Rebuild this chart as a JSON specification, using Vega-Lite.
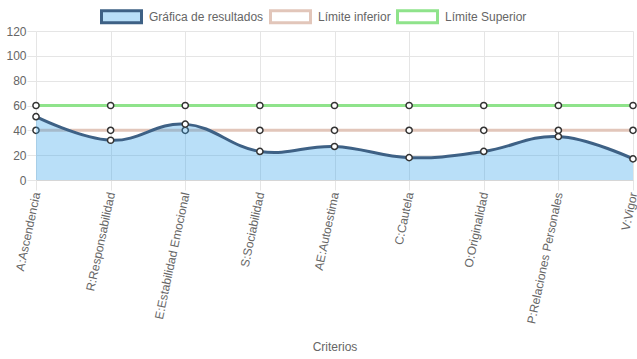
{
  "$schema": "https://vega.github.io/schema/vega-lite/v6.json",
  "width": 597,
  "height": 149,
  "autosize": {"type": "none"},
  "padding": {"left": 36, "top": 31, "right": 4, "bottom": 179},
  "background": "#ffffff",
  "config": {
    "view": {"stroke": null},
    "font": "Liberation Sans",
    "axis": {"labelFont": "Liberation Sans", "labelFontSize": 12, "labelColor": "#666666", "titleFont": "Liberation Sans", "titleFontSize": 12, "titleFontWeight": "normal", "titleColor": "#666666", "gridColor": "#e5e5e5", "tickColor": "#e5e5e5", "domainColor": "#d6d6d6"},
    "legend": {"labelFont": "Liberation Sans", "labelFontSize": 12, "labelColor": "#666666"}
  },
  "data": {
    "values": [
      {"criterio": "A:Ascendencia", "serie": "Gráfica de resultados", "valor": 51},
      {"criterio": "R:Responsabilidad", "serie": "Gráfica de resultados", "valor": 32},
      {"criterio": "E:Estabilidad Emocional", "serie": "Gráfica de resultados", "valor": 45},
      {"criterio": "S:Sociabilidad", "serie": "Gráfica de resultados", "valor": 23},
      {"criterio": "AE:Autoestima", "serie": "Gráfica de resultados", "valor": 27},
      {"criterio": "C:Cautela", "serie": "Gráfica de resultados", "valor": 18},
      {"criterio": "O:Originalidad", "serie": "Gráfica de resultados", "valor": 23},
      {"criterio": "P:Relaciones Personales", "serie": "Gráfica de resultados", "valor": 35},
      {"criterio": "V:Vigor", "serie": "Gráfica de resultados", "valor": 17},
      {"criterio": "A:Ascendencia", "serie": "Límite inferior", "valor": 40},
      {"criterio": "R:Responsabilidad", "serie": "Límite inferior", "valor": 40},
      {"criterio": "E:Estabilidad Emocional", "serie": "Límite inferior", "valor": 40},
      {"criterio": "S:Sociabilidad", "serie": "Límite inferior", "valor": 40},
      {"criterio": "AE:Autoestima", "serie": "Límite inferior", "valor": 40},
      {"criterio": "C:Cautela", "serie": "Límite inferior", "valor": 40},
      {"criterio": "O:Originalidad", "serie": "Límite inferior", "valor": 40},
      {"criterio": "P:Relaciones Personales", "serie": "Límite inferior", "valor": 40},
      {"criterio": "V:Vigor", "serie": "Límite inferior", "valor": 40},
      {"criterio": "A:Ascendencia", "serie": "Límite Superior", "valor": 60},
      {"criterio": "R:Responsabilidad", "serie": "Límite Superior", "valor": 60},
      {"criterio": "E:Estabilidad Emocional", "serie": "Límite Superior", "valor": 60},
      {"criterio": "S:Sociabilidad", "serie": "Límite Superior", "valor": 60},
      {"criterio": "AE:Autoestima", "serie": "Límite Superior", "valor": 60},
      {"criterio": "C:Cautela", "serie": "Límite Superior", "valor": 60},
      {"criterio": "O:Originalidad", "serie": "Límite Superior", "valor": 60},
      {"criterio": "P:Relaciones Personales", "serie": "Límite Superior", "valor": 60},
      {"criterio": "V:Vigor", "serie": "Límite Superior", "valor": 60}
    ]
  },
  "encoding": {
    "x": {
      "field": "criterio", "type": "nominal", "sort": null,
      "scale": {"type": "point", "padding": 0},
      "axis": {"title": "Criterios", "titleY": 161, "titleBaseline": "top", "labelAngle": -78, "labelAlign": "right", "labelBaseline": "middle", "labelPadding": 2, "labelDy": -4, "tickSize": 10, "grid": true, "domain": true}
    },
    "y": {
      "field": "valor", "type": "quantitative",
      "scale": {"domain": [0, 120], "nice": false},
      "axis": {"title": null, "values": [0, 20, 40, 60, 80, 100, 120], "tickSize": 9, "labelPadding": 1, "domain": false, "grid": true}
    }
  },
  "layer": [
    {
      "transform": [{"filter": "datum.serie !== 'Gráfica de resultados'"}],
      "mark": {"type": "line", "strokeWidth": 3},
      "encoding": {
        "detail": {"field": "serie"},
        "stroke": {
          "field": "serie", "type": "nominal",
          "scale": {"domain": ["Gráfica de resultados", "Límite inferior", "Límite Superior"], "range": ["#3e6185", "#e2c6ba", "#8fe38b"]},
          "legend": {"orient": "none", "legendX": 64, "legendY": -36, "direction": "horizontal", "title": null, "symbolType": "M-1,-0.3H1V0.3H-1Z", "symbolSize": 1600, "symbolStrokeWidth": 3, "columnPadding": 0, "labelOffset": 6}
        }
      }
    },
    {
      "transform": [{"filter": "datum.serie !== 'Gráfica de resultados'"}],
      "mark": {"type": "point", "filled": false, "fill": "#ffffff", "stroke": "#333333", "strokeWidth": 1.5, "size": 38, "opacity": 1}
    },
    {
      "transform": [{"filter": "datum.serie === 'Gráfica de resultados'"}],
      "mark": {"type": "area", "interpolate": "cardinal", "tension": -0.2},
      "encoding": {
        "fill": {
          "field": "serie", "type": "nominal",
          "scale": {"domain": ["Gráfica de resultados", "Límite inferior", "Límite Superior"], "range": ["rgba(54,162,235,0.35)", "rgba(255,255,255,0)", "rgba(255,255,255,0)"]},
          "legend": {"orient": "none", "legendX": 64, "legendY": -36, "direction": "horizontal", "title": null, "symbolType": "M-1,-0.3H1V0.3H-1Z", "symbolSize": 1600, "symbolStrokeWidth": 3, "columnPadding": 0, "labelOffset": 6}
        }
      }
    },
    {
      "transform": [{"filter": "datum.serie === 'Gráfica de resultados'"}],
      "mark": {"type": "line", "interpolate": "cardinal", "tension": -0.2, "strokeWidth": 3},
      "encoding": {
        "stroke": {"field": "serie", "type": "nominal"}
      }
    },
    {
      "transform": [{"filter": "datum.serie === 'Gráfica de resultados'"}],
      "mark": {"type": "point", "filled": false, "fill": "#ffffff", "stroke": "#333333", "strokeWidth": 1.5, "size": 38, "opacity": 1}
    }
  ]
}
